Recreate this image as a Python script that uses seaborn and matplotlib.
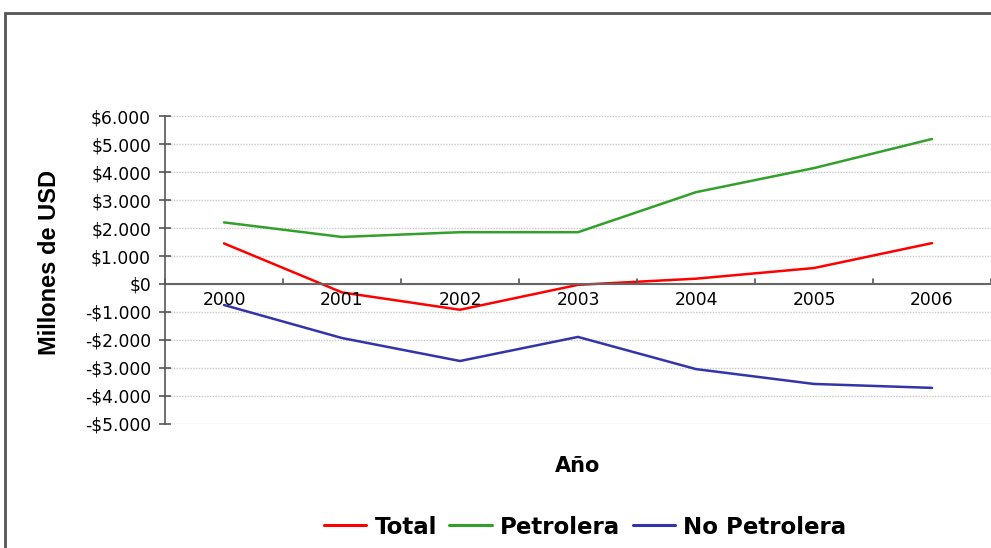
import pandas as pd
import numpy as np
import matplotlib
matplotlib.use("Agg")
import matplotlib.pyplot as plt
import seaborn as sns
from matplotlib.patches import Rectangle

# Data (millones de USD)
years = ['2000', '2001', '2002', '2003', '2004', '2005', '2006']
total = [1450, -300, -920, -30, 190, 570, 1460]
petrolera = [2200, 1680, 1850, 1850, 3280, 4140, 5180]
no_petrolera = [-750, -1930, -2750, -1890, -3040, -3570, -3710]

series_names = ['Total', 'Petrolera', 'No Petrolera']
colors = ['#ff0000', '#33a02c', '#3333aa']

df = pd.DataFrame({'year': years, 'Total': total,
                   'Petrolera': petrolera, 'No Petrolera': no_petrolera})
long_df = df.melt(id_vars='year', var_name='serie', value_name='valor')
long_df['x'] = long_df['year'].map({y: i for i, y in enumerate(years)})

sns.set_style("white")
plt.rcParams['font.family'] = ['Liberation Sans', 'DejaVu Sans']
plt.rcParams['text.color'] = 'black'
plt.rcParams['ytick.color'] = '#555555'
plt.rcParams['ytick.labelcolor'] = 'black'

fig = plt.figure(figsize=(9.91, 5.48), dpi=100)
ax = fig.add_axes([0.1665, 0.2263, 0.8335, 0.562])

sns.lineplot(data=long_df, x='x', y='valor', hue='serie',
             hue_order=series_names, palette=colors, linewidth=1.8,
             ax=ax, legend=False)

ax.set_xlim(-0.5, len(years) - 0.5)
ax.set_ylim(-5000, 6000)

# y ticks with Spanish thousands separator
yticks = np.arange(-5000, 6001, 1000)
ax.set_yticks(yticks)
ylabels = [('-$' if v < 0 else '$') + f"{abs(v):,}".replace(',', '.') for v in yticks]
ax.set_yticklabels(ylabels, fontsize=12.3, family='DejaVu Sans')
ax.tick_params(axis='y', left=True, direction='inout', length=8, width=1.2, pad=6)
ax.yaxis.grid(True, color='#c8c8c8', linestyle=(0, (1, 1)), linewidth=1)

# x axis crosses at zero, ticks between categories
ax.set_xticks([])
for i in range(len(years) + 1):
    ax.plot([i - 0.5, i - 0.5], [0, 170], color='#555555', lw=1.2, clip_on=False)
for i, y in enumerate(years):
    ax.text(i, -250, y, ha='center', va='top', fontsize=12.3,
            family='DejaVu Sans', color='black')
ax.axhline(0, color='#666666', lw=1.5)

for s in ['top', 'right', 'bottom']:
    ax.spines[s].set_visible(False)
ax.spines['left'].set_color('#555555')
ax.spines['left'].set_linewidth(1.2)

ax.set_xlabel('')
ax.set_ylabel('')
fig.text(50 / 991, 1 - 262 / 548, 'Millones de USD', rotation=90,
         ha='center', va='center', fontsize=17, fontweight='bold')
fig.text(0.583, 1 - 466 / 548, 'Año', ha='center', va='center', fontsize=15,
         fontweight='bold', family='DejaVu Sans')

# legend at the bottom
handles = [plt.Line2D([0], [0], color=c, lw=2.2) for c in colors]
fig.legend(handles, series_names, loc='center', bbox_to_anchor=(585 / 991, 1 - 527 / 548),
           ncol=3, frameon=False, handlelength=1.85, handletextpad=0.35,
           columnspacing=0.55, labelcolor='black',
           prop={'family': 'DejaVu Sans', 'weight': 'bold', 'size': 16.5})

# outer chart border
fig.patches.append(Rectangle((5 / 991, -0.02), 1.1, 1 - 13 / 548 + 0.02,
                             transform=fig.transFigure, fill=False,
                             edgecolor='#555555', lw=2, zorder=0))

fig.savefig('out.png', dpi=100)
